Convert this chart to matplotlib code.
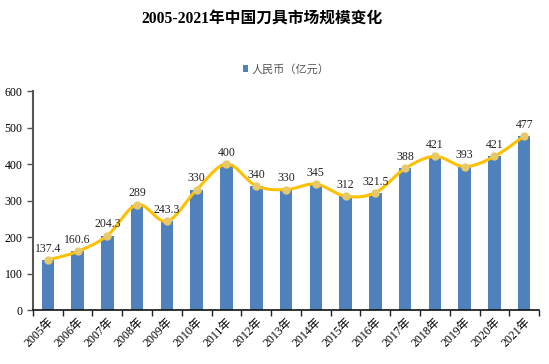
import matplotlib
matplotlib.use("Agg")
import matplotlib.pyplot as plt
import numpy as np

years = ["2005年","2006年","2007年","2008年","2009年","2010年","2011年","2012年","2013年",
         "2014年","2015年","2016年","2017年","2018年","2019年","2020年","2021年"]
values = [137.4,160.6,204.3,289,243.3,330,400,340,330,345,312,321.5,388,421,393,421,477]
labels = ["137.4","160.6","204.3","289","243.3","330","400","340","330","345","312","321.5","388","421","393","421","477"]
yticks = [0,100,200,300,400,500,600]

serif = ['Liberation Serif', 'Noto Sans CJK SC']
plt.rcParams['font.family'] = serif

fig = plt.figure(figsize=(5.49, 3.64), dpi=100)
ax = fig.add_axes([0.060, 0.148, 0.922, 0.602])

x = np.arange(len(values))
ax.bar(x, values, width=0.42, color='#4F81BD', label='人民币（亿元）', zorder=2)

# smooth line (Excel-like bezier through points)
def bezier_smooth(xs, ys, n=30):
    P = np.column_stack([xs, ys]).astype(float)
    out = []
    for i in range(len(P) - 1):
        p0 = P[i - 1] if i > 0 else P[i]
        p1 = P[i]
        p2 = P[i + 1]
        p3 = P[i + 2] if i + 2 < len(P) else P[i + 1]
        c1 = p1 + (p2 - p0) / 6.0
        c2 = p2 - (p3 - p1) / 6.0
        t = np.linspace(0, 1, n)[:, None]
        seg = (1 - t) ** 3 * p1 + 3 * (1 - t) ** 2 * t * c1 + 3 * (1 - t) * t ** 2 * c2 + t ** 3 * p2
        out.append(seg if i == 0 else seg[1:])
    return np.vstack(out)

sm = bezier_smooth(x, values)
ax.plot(sm[:, 0], sm[:, 1], color='#FFC000', lw=2.2, zorder=3)
ax.plot(x, values, 'o', color='#E8C96A', ms=5, zorder=4)

for xi, v, lab in zip(x, values, labels):
    ax.text(xi, v + 14, lab, ha='center', va='bottom', fontsize=8.5, color='#222222', zorder=5)

ax.set_xlim(-0.5, len(values) - 0.5)
ax.set_ylim(0, 600)
ax.set_yticks(yticks)
ax.set_yticklabels([str(t) for t in yticks], fontsize=8.5)
ax.set_xticks(np.arange(len(values) + 1) - 0.5, minor=False)
ax.set_xticklabels([])
ax.set_xticks(x, minor=True)
ax.set_xticklabels(years, minor=True, rotation=45, ha='right', va='top', fontsize=8.5,
                   rotation_mode='anchor')
ax.tick_params(axis='x', which='minor', length=0, pad=4)
ax.tick_params(axis='x', which='major', length=4, direction='out', width=1, color='#222222')
ax.tick_params(axis='y', length=4, direction='out', width=1, color='#555555')

for s in ['top', 'right']:
    ax.spines[s].set_visible(False)
ax.spines['left'].set_color('#555555')
ax.spines['left'].set_linewidth(1.5)
ax.spines['bottom'].set_color('#111111')
ax.spines['bottom'].set_linewidth(1.2)

fig.text(0.478, 0.945, '2005-2021年中国刀具市场规模变化', ha='center', va='center',
         fontsize=11.3, fontweight='bold', family=['Liberation Serif', 'Noto Sans CJK SC'])

leg = ax.legend(loc='center', bbox_to_anchor=(0.5, 1.10), frameon=False,
          prop={'family': ['Noto Sans CJK SC'], 'size': 8}, handlelength=0.5, handleheight=0.5,
          handletextpad=0.3)
for t in leg.get_texts():
    t.set_color('#555555')

fig.savefig('out.png', dpi=100)
